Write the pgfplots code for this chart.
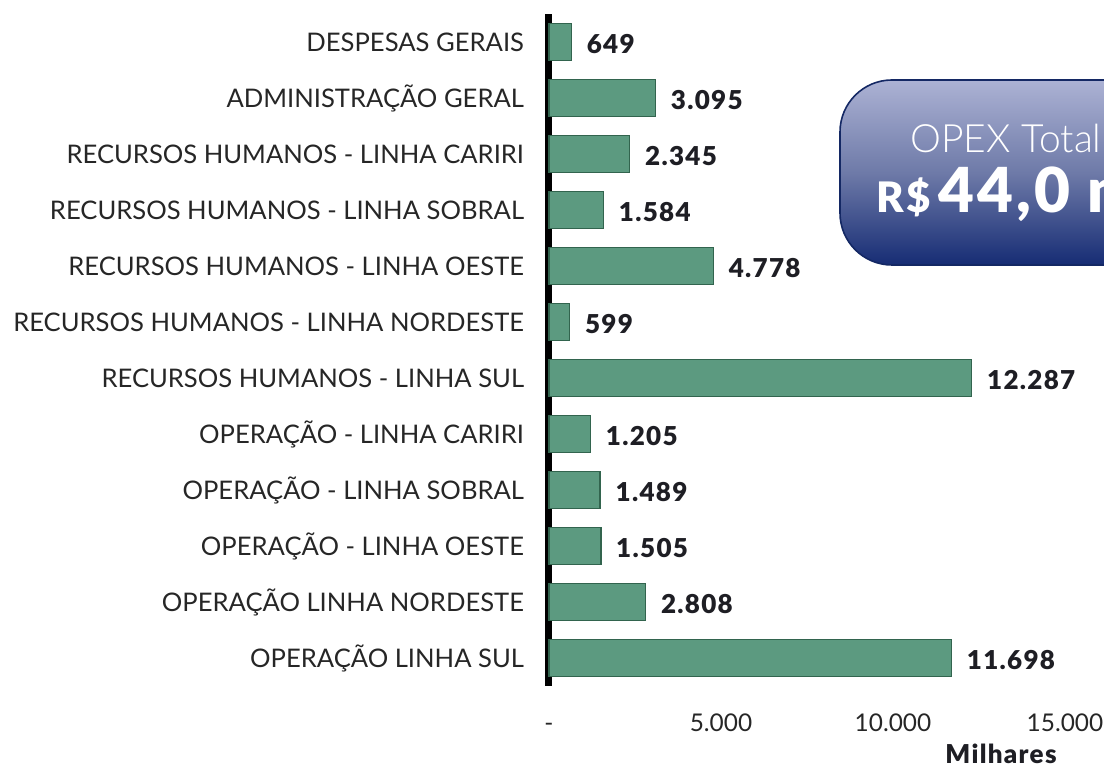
\documentclass[border=0pt]{standalone}
\usepackage{pgfplots}
\pgfplotsset{compat=1.18}
\usepackage{pgfplotstable}
\usepackage{fontspec}
\setmainfont{Lato}
\newfontfamily\lightfont{Lato Light}
\newfontfamily\blackfont[LetterSpace=5]{Lato Black}
\definecolor{barfill}{RGB}{92,154,128}
\definecolor{bardraw}{RGB}{50,100,78}
\definecolor{txt}{RGB}{38,38,38}
\definecolor{valtxt}{RGB}{30,30,36}
\definecolor{boxtop}{RGB}{172,178,212}
\definecolor{boxmid}{RGB}{110,122,168}
\definecolor{boxbot}{RGB}{22,44,116}
\definecolor{boxdraw}{RGB}{20,40,100}
\pgfplotstableread{
y x
0 11698
1 2808
2 1505
3 1489
4 1205
5 12287
6 599
7 4778
8 1584
9 2345
10 3095
11 649
}\opex
\begin{document}
\begin{tikzpicture}[x=0.5pt,y=0.5pt]
\useasboundingbox (0,0) rectangle (1104,770);
\begin{axis}[
  at={(274.5pt,42pt)}, anchor=south west,
  scale only axis, width=258pt, height=336pt,
  xmin=0, xmax=15000, ymin=-0.5, ymax=11.5,
  xbar, bar width=18.5pt,
  axis lines*=left,
  x axis line style={draw=none},
  y axis line style={line width=3.5pt, black},
  major tick length=0pt,
  xtick={0,5000,10000,15000},
  xticklabels={-,5.000,10.000,15.000},
  xticklabel style={font=\fontsize{12.2}{14}\selectfont, text=txt, anchor=base, yshift=-23pt},
  ytick={0,...,11},
  yticklabels={OPERAÇÃO LINHA SUL, OPERAÇÃO LINHA NORDESTE, OPERAÇÃO - LINHA OESTE, OPERAÇÃO - LINHA SOBRAL, OPERAÇÃO - LINHA CARIRI, RECURSOS HUMANOS - LINHA SUL, RECURSOS HUMANOS - LINHA NORDESTE, RECURSOS HUMANOS - LINHA OESTE, RECURSOS HUMANOS - LINHA SOBRAL, RECURSOS HUMANOS - LINHA CARIRI, ADMINISTRAÇÃO GERAL, DESPESAS GERAIS},
  yticklabel style={font=\fontsize{12.8}{14}\selectfont, text=txt, anchor=east, xshift=-9pt},
  nodes near coords={\pgfmathprintnumber[assume math mode=true,1000 sep={.},fixed,precision=0]{\pgfplotspointmeta}},
  nodes near coords style={font=\blackfont\fontsize{13}{14}\selectfont, text=valtxt, anchor=west, xshift=4pt, yshift=-1pt},
  point meta=x,
  clip=false,
]
\addplot[fill=barfill, draw=bardraw, line width=0.8pt] table[x=x,y=y] {\opex};
\end{axis}
\node[anchor=base, font=\blackfont\fontsize{13}{14}\selectfont, text=valtxt] at (1001,6) {Milhares};
\draw[boxdraw, line width=0.8pt, rounded corners=26, top color=boxtop, bottom color=boxbot, middle color=boxmid] (840,505) rectangle (1160,690);
\node[anchor=center, font=\lightfont\fontsize{19.5}{22}\selectfont, text=white] at (1006,632) {OPEX Total};
\node[anchor=base west, text=white, inner sep=0pt] at (876,557) {{\blackfont\fontsize{21}{24}\selectfont R\$}\hspace{4pt}{\blackfont\fontsize{31}{34}\selectfont 44,0 m}};
\end{tikzpicture}
\end{document}
